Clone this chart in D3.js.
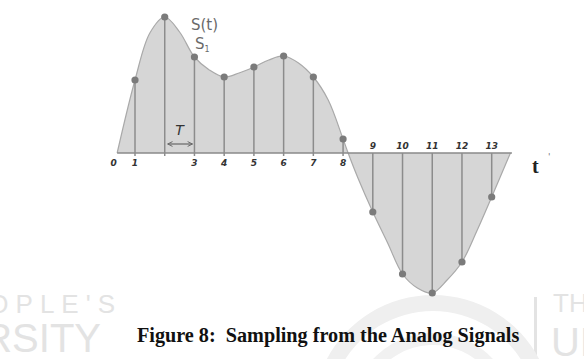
<!DOCTYPE html>
<html><head><meta charset="utf-8">
<script src="https://cdn.jsdelivr.net/npm/d3@7"></script>
<style>body{margin:0;background:#fff}svg{display:block}</style>
</head><body>
<svg id="c" width="584" height="359"></svg>
<script>
// analog signal (t in sample periods, v in signal units)
const signalT = [0.4,1,1.5,2,2.5,3,3.5,4,4.5,5,5.5,6,6.5,7,7.5,8,8.17,8.5,9,9.5,10,10.5,11,11.5,12,12.5,13,13.63];
const signalV = [0,73,120,136,121,96,83,76,80,86,93,97,90,76,53,14,0,-25,-59,-90,-121,-135,-140,-127,-109,-78,-44,0];
// samples S_k
const sampleT = [1,2,3,4,5,6,7,8,9,10,11,12,13];
const sampleV = [73,136,96,76,86,97,76,14,-59,-121,-140,-109,-44];
// axis tick labels
const labelT = [0.28,1,3,4,5,6,7,8,9,10,11,12,13];
const labelText = ["0","1","3","4","5","6","7","8","9","10","11","12","13"];
const captionText = "Figure 8:  Sampling from the Analog Signals";

const svg = d3.select("#c");
svg.append("rect").attr("width",584).attr("height",359).attr("fill","#fff");

// watermark
const wm = svg.append("g").attr("fill","#e3e3e3").attr("font-family","Liberation Sans, Arial, sans-serif");
wm.append("text").attr("x",122).attr("y",313).attr("text-anchor","end").attr("font-size",26).attr("letter-spacing",7).text("PEOPLE'S");
wm.append("text").attr("x",101).attr("y",352).attr("text-anchor","end").attr("font-size",40).text("UNIVERSITY");
wm.append("text").attr("x",553).attr("y",312).attr("font-size",26).text("TH");
wm.append("text").attr("x",551).attr("y",356).attr("font-size",40).text("UN");
wm.append("rect").attr("x",534).attr("y",297).attr("width",3).attr("height",62);
const arc1 = d3.arc().innerRadius(104).outerRadius(120).startAngle(-1.1).endAngle(1.1);
const arc2 = d3.arc().innerRadius(70).outerRadius(82).startAngle(-1.0).endAngle(0.9);
svg.append("path").attr("d",arc1()).attr("transform","translate(433,415)").attr("fill","#efefef");
svg.append("path").attr("d",arc2()).attr("transform","translate(433,415)").attr("fill","#f1f1f1");

const x = d3.scaleLinear().domain([1,13]).range([135,491.7]);
const y = d3.scaleLinear().domain([0,136]).range([153,17]);

const sig = signalT.map((t,i)=>({t, v:signalV[i]}));
const samples = sampleT.map((t,i)=>({t, v:sampleV[i]}));

const curve = d3.curveCatmullRom.alpha(0.5);
svg.append("path").datum(sig)
  .attr("d", d3.area().x(d=>x(d.t)).y0(y(0)).y1(d=>y(d.v)).curve(curve))
  .attr("fill","#d6d6d6");
svg.append("path").datum(sig)
  .attr("d", d3.line().x(d=>x(d.t)).y(d=>y(d.v)).curve(curve))
  .attr("fill","none").attr("stroke","#a9a9a9").attr("stroke-width",1.2);

// time axis
svg.append("line")
  .attr("x1",x(0.4)).attr("x2",x(13.68)).attr("y1",y(0)).attr("y2",y(0))
  .attr("stroke","#8a8a8a").attr("stroke-width",1.6);

// sample stems and dots
svg.append("g").selectAll("line").data(samples).join("line")
  .attr("x1",d=>x(d.t)).attr("x2",d=>x(d.t))
  .attr("y1",d=>y(0) + (d.v>0 ? 3 : 0)).attr("y2",d=>y(d.v))
  .attr("stroke","#8c8c8c").attr("stroke-width",1.5);
svg.append("g").selectAll("circle").data(samples).join("circle")
  .attr("cx",d=>x(d.t)).attr("cy",d=>y(d.v)).attr("r",3.6)
  .attr("fill","#7b7b7b");

// tick labels
svg.append("g").selectAll("text").data(labelT).join("text")
  .attr("x",d=>x(d)).attr("y",d=> d>8.5 ? y(0)-4 : y(0)+13)
  .attr("text-anchor","middle")
  .attr("font-family","DejaVu Sans, sans-serif").attr("font-size",9)
  .attr("font-style","italic").attr("font-weight","bold").attr("fill","#333")
  .text((d,i)=>labelText[i]);

// T arrow
const defs = svg.append("defs");
defs.append("marker").attr("id","ah").attr("viewBox","0 0 10 10").attr("refX",9).attr("refY",5)
  .attr("markerWidth",5).attr("markerHeight",5).attr("orient","auto-start-reverse")
  .append("path").attr("d","M1,1 L9,5 L1,9").attr("fill","none").attr("stroke","#666").attr("stroke-width",1.6);
svg.append("line").attr("x1",x(2)+3).attr("x2",x(3)-2).attr("y1",144).attr("y2",144)
  .attr("stroke","#666").attr("stroke-width",1.2)
  .attr("marker-start","url(#ah)").attr("marker-end","url(#ah)");
svg.append("text").attr("x",(x(2)+x(3))/2).attr("y",135).attr("text-anchor","middle")
  .attr("font-family","DejaVu Sans, sans-serif").attr("font-size",14).attr("font-style","italic")
  .attr("fill","#333").text("T");

// S(t) and S1
svg.append("text").attr("x",191).attr("y",30)
  .attr("font-family","DejaVu Sans, sans-serif").attr("font-size",15).attr("fill","#6a6a6a").text("S(t)");
const s1 = svg.append("text").attr("x",195).attr("y",49)
  .attr("font-family","DejaVu Sans, sans-serif").attr("font-size",15).attr("fill","#6a6a6a");
s1.append("tspan").text("S");
s1.append("tspan").attr("font-size",8).attr("dy",3).text("1");

// t label
svg.append("text").attr("x",532).attr("y",173)
  .attr("font-family","Liberation Serif, serif").attr("font-size",20).attr("font-weight","bold")
  .attr("fill","#222").text("t");
svg.append("text").attr("x",548).attr("y",160)
  .attr("font-family","DejaVu Sans, sans-serif").attr("font-size",9).attr("fill","#777").text("'");

// caption
svg.append("text").attr("x",137).attr("y",342).style("white-space","pre")
  .attr("font-family","Liberation Serif, Times New Roman, serif").attr("font-size",20.2)
  .attr("font-weight","bold").attr("fill","#111").text(captionText);
</script>
</body></html>
